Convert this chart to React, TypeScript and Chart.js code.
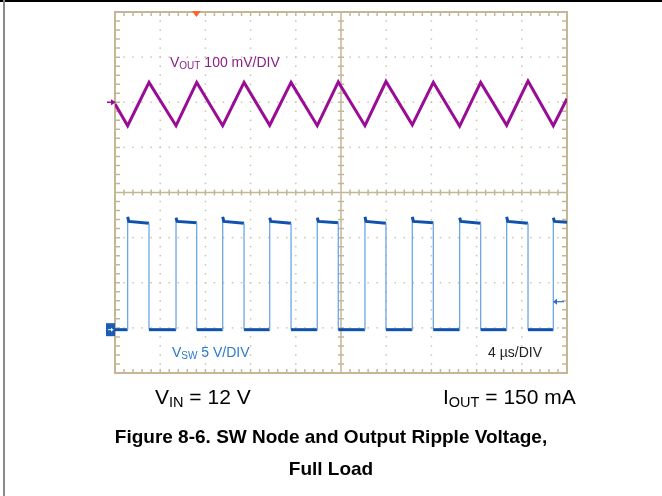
import React, { useEffect, useRef } from "react";
import { Chart, registerables } from "chart.js";

Chart.register(...registerables);

// ---- data ----
// time axis: 10 divisions x 4 µs
const timeDivs = [0, 4, 8, 12, 16, 20, 24, 28, 32, 36, 40];
// V_OUT ripple (mV, ac-coupled) vertices of the triangle wave
const voutTime = [0, 1.12, 3.01, 5.4, 7.23, 9.53, 11.42, 13.69, 15.58, 17.9, 19.76, 22.12, 23.98, 26.31, 28.17, 30.5, 32.36, 34.66, 36.55, 38.79, 40];
const voutMv = [-4, -52, 44, -52, 44, -52, 44, -51, 44, -52, 45, -52, 46, -50, 44, -53, 44, -51, 47, -52, 8];
// V_SW switching node edges (µs) and levels (V)
const swRising = [1.12, 5.4, 9.53, 13.69, 17.9, 22.12, 26.31, 30.5, 34.66, 38.79];
const swFalling = [3.01, 7.23, 11.42, 15.58, 19.76, 23.98, 28.17, 32.36, 36.55];
const swHighPeak = [12.5, 12.4, 12.5, 12.4, 12.4, 12.5, 12.5, 12.4, 12.5, 12.4];
const swHighSettle = [12.0, 12.0, 12.0, 12.0, 12.0, 12.0, 12.0, 12.0, 12.0, 12.0];
const swHighEnd = [11.8, 11.85, 11.8, 11.8, 11.85, 11.8, 11.85, 11.8, 11.8, 11.9];
const swLow = 0;
// markers
const triggerTime = 7.2;
const triggerLevelV = 3.1;

const GRID = "#c4b796";
const DOT = "#cdc3a8";
const PURPLE = "#9a0c95";
const BLUE = "#0f52ad";
const EDGE = "#6fa6e4";

function buildSw() {
  const pts: { x: number; y: number }[] = [{ x: 0, y: swLow }];
  swRising.forEach((r, i) => {
    pts.push({ x: r, y: swLow });
    pts.push({ x: r, y: swHighPeak[i] });
    pts.push({ x: r + 0.1, y: swHighSettle[i] });
    const f = i < swFalling.length ? swFalling[i] : 40;
    pts.push({ x: f, y: swHighEnd[i] });
    if (i < swFalling.length) {
      pts.push({ x: f, y: swLow });
    }
  });
  return pts;
}

const scopeGrid = {
  id: "scopeGrid",
  beforeDatasetsDraw(chart: any) {
    const { ctx, chartArea: a, scales } = chart;
    const x = scales.x;
    const yV = scales.yV;
    const cx = x.getPixelForValue(20);
    const cy = (a.top + a.bottom) / 2;
    const dx = (a.right - a.left) / 50;
    const dy = (a.bottom - a.top) / 40;
    ctx.save();
    // dotted division lines
    ctx.fillStyle = DOT;
    timeDivs.forEach((t) => {
      const px = x.getPixelForValue(t);
      if (t === 0 || t === 40 || t === 20) return;
      for (let k = 1; k < 40; k++) ctx.fillRect(px - 0.75, a.top + k * dy - 0.75, 1.5, 1.5);
    });
    for (let v = -500; v <= 100; v += 100) {
      const py = yV.getPixelForValue(v);
      if (Math.abs(py - cy) < 1) continue;
      for (let k = 1; k < 50; k++) ctx.fillRect(a.left + k * dx - 0.75, py - 0.75, 1.5, 1.5);
    }
    // border
    ctx.strokeStyle = GRID;
    ctx.lineWidth = 2;
    ctx.strokeRect(a.left, a.top, a.right - a.left, a.bottom - a.top);
    // center cross
    ctx.lineWidth = 1.5;
    ctx.beginPath();
    ctx.moveTo(a.left, cy);
    ctx.lineTo(a.right, cy);
    ctx.moveTo(cx, a.top);
    ctx.lineTo(cx, a.bottom);
    // minor ticks
    for (let k = 1; k < 50; k++) {
      const px = a.left + k * dx;
      ctx.moveTo(px, cy - 3);
      ctx.lineTo(px, cy + 3);
      ctx.moveTo(px, a.top);
      ctx.lineTo(px, a.top + 4);
      ctx.moveTo(px, a.bottom);
      ctx.lineTo(px, a.bottom - 4);
    }
    for (let k = 1; k < 40; k++) {
      const py = a.top + k * dy;
      ctx.moveTo(cx - 3, py);
      ctx.lineTo(cx + 3, py);
      ctx.moveTo(a.left, py);
      ctx.lineTo(a.left + 5, py);
      ctx.moveTo(a.right, py);
      ctx.lineTo(a.right - 5, py);
    }
    ctx.stroke();
    ctx.restore();
  },
  afterDatasetsDraw(chart: any) {
    const { ctx, chartArea: a, scales } = chart;
    ctx.save();
    // trigger position marker
    const tx = scales.x.getPixelForValue(triggerTime);
    ctx.fillStyle = "#f4692a";
    ctx.beginPath();
    ctx.moveTo(tx - 4.5, a.top - 1);
    ctx.lineTo(tx + 4.5, a.top - 1);
    ctx.lineTo(tx, a.top + 5);
    ctx.closePath();
    ctx.fill();
    // V_OUT ground arrow
    const vy = scales.yV.getPixelForValue(0);
    ctx.strokeStyle = PURPLE;
    ctx.fillStyle = PURPLE;
    ctx.lineWidth = 1.5;
    ctx.beginPath();
    ctx.moveTo(a.left - 8, vy);
    ctx.lineTo(a.left - 1, vy);
    ctx.stroke();
    ctx.beginPath();
    ctx.moveTo(a.left + 1, vy);
    ctx.lineTo(a.left - 4, vy - 3);
    ctx.lineTo(a.left - 4, vy + 3);
    ctx.closePath();
    ctx.fill();
    // V_SW ground box
    const sy = scales.ySw.getPixelForValue(0);
    ctx.fillStyle = "#1a5cb8";
    ctx.fillRect(a.left - 9, sy - 6.5, 9, 13);
    ctx.strokeStyle = "#ffffff";
    ctx.fillStyle = "#ffffff";
    ctx.lineWidth = 1;
    ctx.beginPath();
    ctx.moveTo(a.left - 7, sy);
    ctx.lineTo(a.left - 3, sy);
    ctx.stroke();
    ctx.beginPath();
    ctx.moveTo(a.left - 1.5, sy);
    ctx.lineTo(a.left - 4, sy - 2);
    ctx.lineTo(a.left - 4, sy + 2);
    ctx.closePath();
    ctx.fill();
    // trigger level arrow
    const ly = scales.ySw.getPixelForValue(triggerLevelV);
    ctx.strokeStyle = "#2a6fc9";
    ctx.fillStyle = "#2a6fc9";
    ctx.lineWidth = 1.2;
    ctx.beginPath();
    ctx.moveTo(a.right - 13, ly);
    ctx.lineTo(a.right - 3, ly);
    ctx.stroke();
    ctx.beginPath();
    ctx.moveTo(a.right - 14, ly);
    ctx.lineTo(a.right - 10, ly - 3);
    ctx.lineTo(a.right - 10, ly + 3);
    ctx.closePath();
    ctx.fill();
    ctx.restore();
  },
};

const font = "'Liberation Sans', Arial, sans-serif";

export default function App() {
  const ref = useRef<HTMLCanvasElement | null>(null);
  useEffect(() => {
    if (!ref.current) return;
    const chart = new Chart(ref.current, {
      type: "line",
      data: {
        datasets: [
          {
            label: "VSW",
            data: buildSw(),
            yAxisID: "ySw",
            borderColor: BLUE,
            borderWidth: 3,
            pointRadius: 0,
            tension: 0,
            segment: {
              borderWidth: (c: any) => (c.p0.parsed.x === c.p1.parsed.x ? 1.3 : 3),
              borderColor: (c: any) => (c.p0.parsed.x === c.p1.parsed.x ? EDGE : BLUE),
            },
          } as any,
          {
            label: "VOUT",
            data: voutTime.map((t, i) => ({ x: t, y: voutMv[i] })),
            yAxisID: "yV",
            borderColor: PURPLE,
            borderWidth: 3,
            pointRadius: 0,
            tension: 0,
          },
        ],
      },
      options: {
        animation: false,
        responsive: false,
        maintainAspectRatio: false,
        layout: { padding: { left: 115, right: 95, top: 12, bottom: 123 } },
        plugins: { legend: { display: false }, tooltip: { enabled: false } },
        scales: {
          x: { type: "linear", min: 0, max: 40, display: false },
          yV: { type: "linear", min: -600, max: 200, display: false },
          ySw: { type: "linear", min: -4.8, max: 35.2, display: false },
        },
      },
      plugins: [scopeGrid],
    });
    return () => chart.destroy();
  }, []);

  const abs = (left: number, top: number, extra: React.CSSProperties = {}): React.CSSProperties => ({
    position: "absolute",
    left,
    top,
    whiteSpace: "nowrap",
    fontFamily: font,
    ...extra,
  });
  const sub = (size: number, drop: number): React.CSSProperties => ({
    fontSize: size,
    position: "relative",
    top: drop,
  });

  return (
    <div style={{ position: "fixed", left: 0, top: 0, width: 662, height: 496, background: "#fff", overflow: "hidden" }}>
      <canvas ref={ref} width={662} height={496} style={{ position: "absolute", left: 0, top: 0 }} />
      <div style={{ position: "absolute", left: 0, top: 0, width: 662, height: 2, background: "#000" }} />
      <div style={{ position: "absolute", left: 3, top: 0, width: 2, height: 496, background: "#8a8a8a" }} />
      <div style={abs(170, 53, { fontSize: 14, color: "#8b1f88", lineHeight: "18px" })}>
        V<span style={sub(10, 2)}>OUT</span> 100 mV/DIV
      </div>
      <div style={abs(172, 343, { fontSize: 14, color: "#2a7ad0", lineHeight: "18px" })}>
        V<span style={sub(10, 2)}>SW</span> 5 V/DIV
      </div>
      <div style={abs(488, 343, { fontSize: 14, color: "#222", lineHeight: "18px" })}>4 µs/DIV</div>
      <div style={abs(155, 385, { fontSize: 21, color: "#000", lineHeight: "24px" })}>
        V<span style={sub(14.5, 3)}>IN</span> = 12 V
      </div>
      <div style={abs(443, 385, { fontSize: 21, color: "#000", lineHeight: "24px" })}>
        I<span style={sub(14.5, 3)}>OUT</span> = 150 mA
      </div>
      <div
        style={{
          position: "absolute",
          left: 0,
          top: 421,
          width: 662,
          textAlign: "center",
          fontFamily: font,
          fontWeight: "bold",
          fontSize: 19,
          lineHeight: "32px",
          color: "#000",
        }}
      >
        Figure 8-6. SW Node and Output Ripple Voltage,
        <br />
        Full Load
      </div>
    </div>
  );
}
